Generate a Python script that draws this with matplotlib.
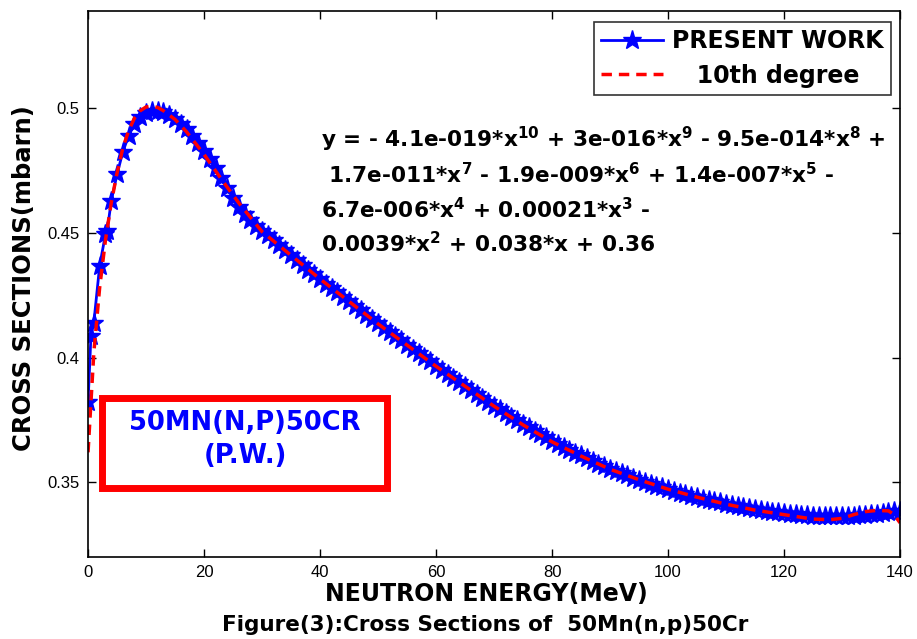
import matplotlib
matplotlib.use("Agg")
import matplotlib.pyplot as plt
from matplotlib.patches import Rectangle

# Present work data (MeV, mbarn)
energy = [0, 0.5, 1, 2, 3, 3.3, 4, 5, 6, 7, 8, 9, 10, 11, 12, 13, 14, 15, 16, 17, 18, 19,
          20, 21, 22, 23, 24, 25, 26, 27, 28, 29, 30, 31, 32, 33, 34, 35, 36, 37, 38, 39,
          40, 41, 42, 43, 44, 45, 46, 47, 48, 49, 50, 51, 52, 53, 54, 55, 56, 57, 58, 59,
          60, 61, 62, 63, 64, 65, 66, 67, 68, 69, 70, 71, 72, 73, 74, 75, 76, 77, 78, 79,
          80, 81, 82, 83, 84, 85, 86, 87, 88, 89, 90, 91, 92, 93, 94, 95, 96, 97, 98, 99,
          100, 101, 102, 103, 104, 105, 106, 107, 108, 109, 110, 111, 112, 113, 114, 115,
          116, 117, 118, 119, 120, 121, 122, 123, 124, 125, 126, 127, 128, 129, 130, 131,
          132, 133, 134, 135, 136, 137, 138, 139, 140]
cross_section = [0.3820, 0.4086, 0.4140, 0.4367, 0.4494, 0.4507, 0.4628, 0.4735, 0.4825,
                 0.4890, 0.4935, 0.4965, 0.4982, 0.4990, 0.4990, 0.4985, 0.4972, 0.4957,
                 0.4938, 0.4915, 0.4890, 0.4862, 0.4830, 0.4795, 0.4760, 0.4722, 0.4680,
                 0.4640, 0.4605, 0.4575, 0.4550, 0.4528, 0.4508, 0.4490, 0.4472, 0.4453,
                 0.4433, 0.4413, 0.4393, 0.4373, 0.4353, 0.4334, 0.4315, 0.4297, 0.4279,
                 0.4261, 0.4243, 0.4225, 0.4208, 0.4190, 0.4172, 0.4155, 0.4138, 0.4120,
                 0.4103, 0.4086, 0.4069, 0.4052, 0.4035, 0.4018, 0.4001, 0.3985, 0.3968,
                 0.3951, 0.3934, 0.3918, 0.3901, 0.3885, 0.3869, 0.3853, 0.3837, 0.3822,
                 0.3807, 0.3792, 0.3777, 0.3762, 0.3748, 0.3734, 0.3720, 0.3706, 0.3693,
                 0.3680, 0.3667, 0.3655, 0.3643, 0.3631, 0.3619, 0.3608, 0.3597, 0.3586,
                 0.3575, 0.3565, 0.3555, 0.3545, 0.3536, 0.3527, 0.3518, 0.3510, 0.3502,
                 0.3494, 0.3486, 0.3479, 0.3472, 0.3465, 0.3458, 0.3452, 0.3446, 0.3440,
                 0.3434, 0.3429, 0.3424, 0.3419, 0.3414, 0.3410, 0.3405, 0.3401, 0.3397,
                 0.3393, 0.3389, 0.3386, 0.3382, 0.3379, 0.3376, 0.3373, 0.3371, 0.3369,
                 0.3367, 0.3366, 0.3365, 0.3364, 0.3364, 0.3364, 0.3364, 0.3365, 0.3366,
                 0.3367, 0.3369, 0.3371, 0.3374, 0.3377, 0.3380, 0.3383, 0.3386]

# 10th degree fit
fit_energy = [0, 1, 2, 3, 4, 5, 6, 7, 8, 9, 10, 11, 12, 13, 15, 17, 20, 23, 26, 30, 35,
              40, 45, 50, 55, 60, 65, 70, 75, 80, 85, 90, 95, 100, 105, 110, 115, 120,
              125, 128, 130, 132, 134, 136, 138, 139, 140]
fit_values = [0.3620, 0.4020, 0.4280, 0.4470, 0.4620, 0.4740, 0.4840, 0.4910, 0.4960,
              0.4990, 0.5005, 0.5008, 0.5003, 0.4990, 0.4955, 0.4905, 0.4815, 0.4715,
              0.4620, 0.4505, 0.4410, 0.4315, 0.4225, 0.4135, 0.4050, 0.3965, 0.3885,
              0.3805, 0.3730, 0.3662, 0.3605, 0.3552, 0.3510, 0.3472, 0.3440, 0.3412,
              0.3388, 0.3370, 0.3352, 0.3350, 0.3355, 0.3370, 0.3382, 0.3387, 0.3385,
              0.3370, 0.3337]

x_ticks = [0, 20, 40, 60, 80, 100, 120, 140]
y_ticks = [0.35, 0.4, 0.45, 0.5]
y_tick_labels = ["0.35", "0.4", "0.45", "0.5"]

equation_lines = [
    r"y = - 4.1e-019*x$^{10}$ + 3e-016*x$^{9}$ - 9.5e-014*x$^{8}$ +",
    r" 1.7e-011*x$^{7}$ - 1.9e-009*x$^{6}$ + 1.4e-007*x$^{5}$ -",
    r"6.7e-006*x$^{4}$ + 0.00021*x$^{3}$ -",
    r"0.0039*x$^{2}$ + 0.038*x + 0.36",
]

plt.rcParams['mathtext.default'] = 'bf'
fig = plt.figure(figsize=(9.17, 6.39), dpi=100)
ax = fig.add_axes([0.096, 0.1283, 0.8855, 0.8545])

ax.plot(energy, cross_section, color='blue', lw=2, marker='*', markersize=14,
        markerfacecolor='blue', markeredgecolor='blue', label='PRESENT WORK')
ax.plot(fit_energy, fit_values, color='red', lw=2.5, ls=(0, (3, 2)),
        label='   10th degree')

ax.set_xlim(0, 140)
ax.set_ylim(0.32, 0.539)
ax.set_xticks(x_ticks)
ax.set_xticklabels([str(v) for v in x_ticks], fontsize=12, family='Liberation Sans')
ax.set_yticks(y_ticks)
ax.set_yticklabels(y_tick_labels, fontsize=12, family='Liberation Sans')
ax.tick_params(direction='in', top=True, right=True, length=6, width=1, pad=6)
for s in ax.spines.values():
    s.set_linewidth(1.2)

fig.text(486 / 917, 1 - 594 / 639, 'NEUTRON ENERGY(MeV)', fontsize=17, fontweight='bold',
         ha='center', va='center')
fig.text(24 / 917, 1 - 278 / 639, 'CROSS SECTIONS(mbarn)', fontsize=17.5,
         fontweight='bold', ha='center', va='center', rotation=90)
fig.text(0.529, 0.022, 'Figure(3):Cross Sections of  50Mn(n,p)50Cr', ha='center',
         va='center', fontsize=15.5, fontweight='bold')

leg = ax.legend(loc='upper right', bbox_to_anchor=(0.9885, 0.98),
                prop={'weight': 'bold', 'size': 17}, frameon=True, fancybox=False,
                edgecolor='black', handlelength=2.6, borderpad=0.3, labelspacing=0.45,
                handletextpad=0.4, borderaxespad=0)
leg.get_frame().set_linewidth(1.2)

for i, line in enumerate(equation_lines):
    ax.text(0.2865, 0.764 - i * 0.0635, line, transform=ax.transAxes, fontsize=15.6,
            fontweight='bold', ha='left', va='center')

box = Rectangle((102 / 917, 1 - 488 / 639), (387 - 102) / 917, (488 - 398) / 639,
                transform=fig.transFigure, facecolor='white', edgecolor='red',
                linewidth=5, zorder=5)
fig.patches.append(box)
fig.text(245 / 917, 1 - 423 / 639, '50MN(N,P)50CR', color='blue', fontsize=18.5,
         fontweight='bold', ha='center', va='center', zorder=6)
fig.text(245 / 917, 1 - 456 / 639, '(P.W.)', color='blue', fontsize=18.5,
         fontweight='bold', ha='center', va='center', zorder=6)

fig.savefig('out.png', dpi=100, facecolor='white')
